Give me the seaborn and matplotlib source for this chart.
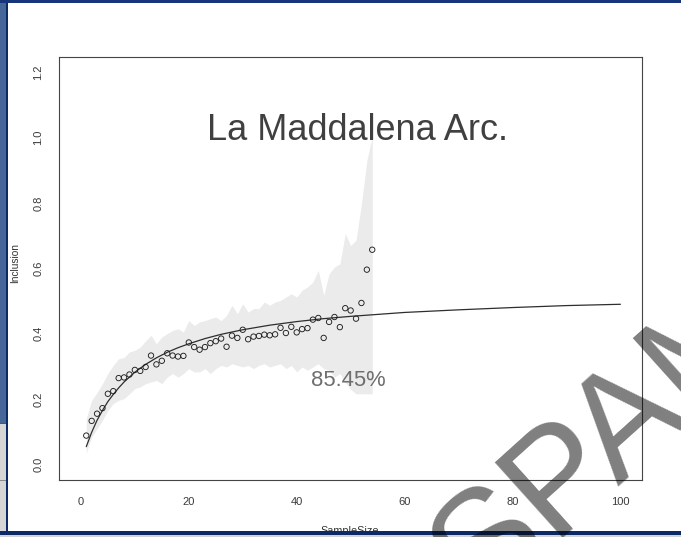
import matplotlib
matplotlib.use("Agg")
import matplotlib.pyplot as plt
import seaborn as sns
from matplotlib.patches import Rectangle

# ---------------- data ----------------
sample_size = list(range(1, 55))
inclusion = [0.088, 0.133, 0.155, 0.172, 0.216, 0.224, 0.264, 0.266, 0.275, 0.289,
             0.286, 0.298, 0.333, 0.306, 0.317, 0.340, 0.333, 0.330, 0.332, 0.373,
             0.359, 0.351, 0.359, 0.371, 0.377, 0.385, 0.360, 0.394, 0.387, 0.412,
             0.383, 0.391, 0.393, 0.397, 0.395, 0.398, 0.418, 0.402, 0.421, 0.404,
             0.414, 0.417, 0.443, 0.448, 0.387, 0.436, 0.451, 0.420, 0.478, 0.471,
             0.446, 0.494, 0.596, 0.657]
band_upper = [0.140, 0.196, 0.220, 0.247, 0.278, 0.303, 0.323, 0.327, 0.344, 0.349,
              0.359, 0.378, 0.395, 0.369, 0.390, 0.400, 0.410, 0.415, 0.405, 0.440,
              0.425, 0.436, 0.440, 0.446, 0.451, 0.440, 0.456, 0.487, 0.461, 0.492,
              0.466, 0.477, 0.477, 0.497, 0.487, 0.497, 0.502, 0.512, 0.522, 0.512,
              0.533, 0.543, 0.558, 0.594, 0.517, 0.583, 0.604, 0.614, 0.706, 0.670,
              0.686, 0.798, 0.930, 1.005]
band_lower = [0.035, 0.084, 0.109, 0.135, 0.165, 0.186, 0.196, 0.201, 0.216, 0.232,
              0.237, 0.247, 0.252, 0.257, 0.247, 0.267, 0.278, 0.267, 0.278, 0.293,
              0.283, 0.283, 0.293, 0.278, 0.293, 0.303, 0.298, 0.308, 0.303, 0.298,
              0.303, 0.293, 0.303, 0.308, 0.298, 0.303, 0.308, 0.293, 0.303, 0.283,
              0.298, 0.288, 0.298, 0.308, 0.293, 0.288, 0.267, 0.278, 0.250, 0.230,
              0.216, 0.216, 0.216, 0.216]
curve_size = [1, 2, 3, 4, 5, 6, 7, 8, 9, 10, 12, 14, 16, 18, 20, 23, 26, 30, 35,
              40, 45, 50, 55, 60, 70, 80, 90, 100]
curve_value = [0.054, 0.098, 0.135, 0.165, 0.192, 0.214, 0.234, 0.252, 0.267, 0.282,
               0.306, 0.326, 0.343, 0.357, 0.369, 0.385, 0.398, 0.412, 0.426,
               0.437, 0.446, 0.453, 0.459, 0.465, 0.473, 0.480, 0.486, 0.490]
x_ticks = [0, 20, 40, 60, 80, 100]
y_ticks = [0.0, 0.2, 0.4, 0.6, 0.8, 1.0, 1.2]
y_tick_labels = ["0.0", "0.2", "0.4", "0.6", "0.8", "1.0", "1.2"]
title_text = "La Maddalena Arc."
percent_text = "85.45%"
x_label = "SampleSize"
y_label = "Inclusion"
watermark_text = "SPAM"

# ---------------- style ----------------
sns.set_theme(style="white")
plt.rcParams["font.family"] = ["Liberation Sans", "DejaVu Sans"]

W, H = 681, 537
fig = plt.figure(figsize=(W / 100, H / 100), dpi=100)
fig.patch.set_facecolor("white")


def fx(px):
    return px / W


def fy(py):
    return 1 - py / H


ax_l, ax_r, ax_t, ax_b = 59.3, 642.0, 56.7, 480.0
ax = fig.add_axes([fx(ax_l), fy(ax_b), (ax_r - ax_l) / W, (ax_b - ax_t) / H])
ax.set_facecolor("white")

ax.fill_between(sample_size, band_lower, band_upper, color="#ebebeb",
                linewidth=0, zorder=1)
sns.lineplot(x=curve_size, y=curve_value, color="#2e2e2e", linewidth=0.9,
             ax=ax, zorder=3)
sns.scatterplot(x=sample_size, y=inclusion, marker="o", s=15, ax=ax, zorder=4)
pts = ax.collections[-1]
pts.set_facecolor("none")
pts.set_edgecolor("#1e1e1e")
pts.set_linewidth(0.65)

ax.set_xlim(-4, 104)
ax.set_ylim(-0.048, 1.248)
ax.set_xticks(x_ticks)
ax.set_xticklabels([str(v) for v in x_ticks])
ax.set_yticks(y_ticks)
ax.set_yticklabels(y_tick_labels, rotation=90, va="center")
ax.set_xlabel("")
ax.set_ylabel("")
ax.grid(False)
ax.tick_params(axis="both", direction="out", length=5.4, width=0.8,
               color="#444444", labelsize=8, labelcolor="#3a3a3a")
ax.tick_params(axis="x", pad=7)
ax.tick_params(axis="y", pad=6)
for sp in ax.spines.values():
    sp.set_visible(True)
    sp.set_color("#444444")
    sp.set_linewidth(0.8)

# in-plot annotations
fig.text(fx(357.5), fy(140), title_text, ha="center", va="baseline",
         fontsize=26, color="#404040")
fig.text(fx(348.7), fy(385.7), percent_text, ha="center", va="baseline",
         fontsize=15.8, color="#6e6e6e", zorder=4)
fig.text(fx(15), fy(263), y_label, ha="center", va="center", rotation=90,
         fontsize=7.3, color="#333333")
fig.text(fx(350), fy(533.7), x_label, ha="center", va="baseline",
         fontsize=7.8, color="#333333", zorder=1)

# ---------------- slide frame overlay ----------------
ov = fig.add_axes([0, 0, 1, 1], zorder=5)
ov.set_xlim(0, W)
ov.set_ylim(H, 0)
ov.axis("off")
ov.patch.set_alpha(0)

ov.add_patch(Rectangle((0, 0), 6, 423, color="#46669a", lw=0))
ov.add_patch(Rectangle((0, 423), 6, 114, color="#d6d6d6", lw=0))
ov.add_patch(Rectangle((0, 422.5), 6, 1.2, color="#555555", lw=0))
ov.add_patch(Rectangle((0, 479.5), 6, 1.0, color="#8a8a8a", lw=0))
ov.add_patch(Rectangle((6, 0), 2.2, H, color="#0c2a66", lw=0))
ov.add_patch(Rectangle((0, 0), W, 3.2, color="#17357a", lw=0))
ov.add_patch(Rectangle((0, 531.2), W, 3.8, color="#0c2a66", lw=0))
ov.add_patch(Rectangle((0, 535), W, 2, color="#d4d4d4", lw=0))

# watermark
ov.text(480, 606, watermark_text, rotation=42, rotation_mode="anchor",
        ha="left", va="baseline", fontsize=106, color="black", alpha=0.5,
        clip_on=False)

fig.savefig("out.png", dpi=100)
